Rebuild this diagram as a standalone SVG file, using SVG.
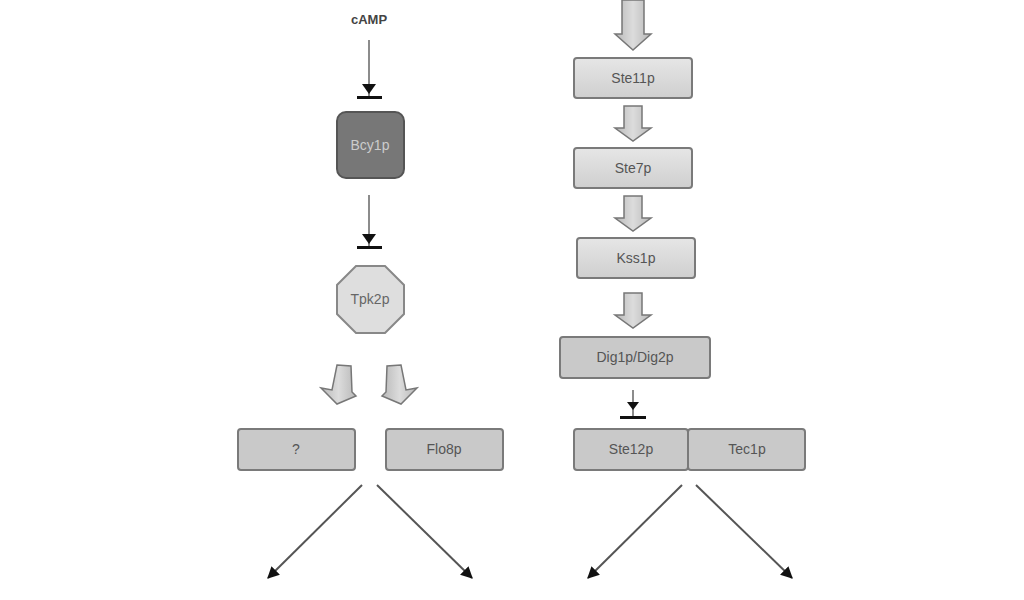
<svg xmlns="http://www.w3.org/2000/svg" width="1024" height="600" viewBox="0 0 1024 600">
<defs>
<linearGradient id="g" x1="0" y1="0" x2="0" y2="1"><stop offset="0" stop-color="#e6e6e6"/><stop offset="1" stop-color="#cfcfcf"/></linearGradient>
<linearGradient id="ba" x1="0" y1="0" x2="1" y2="0"><stop offset="0" stop-color="#b8b8b8"/><stop offset="0.5" stop-color="#dcdcdc"/><stop offset="1" stop-color="#b8b8b8"/></linearGradient>
<marker id="ah" viewBox="0 0 10 10" refX="9" refY="5" markerWidth="6" markerHeight="6" orient="auto"><path d="M0,0 L10,5 L0,10 Z" fill="#111"/></marker>
</defs>
<style>
.box{fill:url(#g);stroke:#7a7a7a;stroke-width:2}
.boxd{fill:#c9c9c9;stroke:#7a7a7a;stroke-width:2}
.t{font-family:"Liberation Sans",Arial,sans-serif;font-size:14px;fill:#555;text-anchor:middle}
.ln{stroke:#666;stroke-width:1.5;fill:none}
.dl{stroke:#555;stroke-width:2;fill:none;marker-end:url(#ah)}
.blk{fill:url(#ba);stroke:#777;stroke-width:1.5}
.inh{fill:#111}
</style>
<rect width="1024" height="600" fill="#fff"/>
<g id="connectors">
<line class="ln" x1="369" y1="40" x2="369" y2="96"/>
<path class="inh" d="M362,84 L376,84 L369,94 Z"/>
<rect class="inh" x="357" y="96" width="25" height="3"/>
<line class="ln" x1="369" y1="195" x2="369" y2="246"/>
<path class="inh" d="M362,234 L376,234 L369,244 Z"/>
<rect class="inh" x="357" y="246" width="25" height="3"/>
<path class="blk" d="M337,365 L351,366 L352,392 L356,396 L337,404 L321,388 L332,390 Z"/>
<path class="blk" d="M401,365 L387,366 L386,392 L382,396 L401,404 L417,388 L406,390 Z"/>
<path class="blk" d="M622,0 L644,0 L644,34 L651,34 L633,50 L615,34 L622,34 Z"/>
<path class="blk" d="M624,106 L642,106 L642,128 L651,128 L633,141 L615,128 L624,128 Z"/>
<path class="blk" d="M624,196 L642,196 L642,218 L651,218 L633,231 L615,218 L624,218 Z"/>
<path class="blk" d="M624,293 L642,293 L642,315 L651,315 L633,328 L615,315 L624,315 Z"/>
<line class="ln" x1="633" y1="390" x2="633" y2="416"/>
<path class="inh" d="M627,402 L639,402 L633,410 Z"/>
<rect class="inh" x="620" y="416" width="26" height="3"/>
<line class="dl" x1="362" y1="485" x2="268" y2="578"/>
<line class="dl" x1="377" y1="485" x2="472" y2="578"/>
<line class="dl" x1="682" y1="485" x2="588" y2="578"/>
<line class="dl" x1="696" y1="485" x2="792" y2="578"/>
</g>
<g id="cAMP"><text x="369" y="24" font-family="Liberation Sans,Arial,sans-serif" font-size="13" font-weight="bold" fill="#444" text-anchor="middle">cAMP</text></g>
<g id="Bcy1p"><rect x="337" y="112" width="67" height="66" rx="9" fill="#777" stroke="#555" stroke-width="2"/><text class="t" x="370" y="150" style="fill:#ccc">Bcy1p</text></g>
<g id="Tpk2p"><polygon points="356,266 385,266 404,285 404,314 385,333 356,333 337,314 337,285" fill="#dedede" stroke="#888" stroke-width="2"/><text class="t" x="370" y="304" style="fill:#666">Tpk2p</text></g>
<g id="unknown"><rect class="boxd" x="238" y="429" width="117" height="41" rx="3"/><text class="t" x="296" y="454">?</text></g>
<g id="Flo8p"><rect class="boxd" x="386" y="429" width="117" height="41" rx="3"/><text class="t" x="444" y="454">Flo8p</text></g>
<g id="Ste11p"><rect class="box" x="574" y="58" width="118" height="40" rx="3"/><text class="t" x="633" y="83">Ste11p</text></g>
<g id="Ste7p"><rect class="box" x="574" y="148" width="118" height="40" rx="3"/><text class="t" x="633" y="173">Ste7p</text></g>
<g id="Kss1p"><rect class="box" x="577" y="238" width="118" height="40" rx="3"/><text class="t" x="636" y="263">Kss1p</text></g>
<g id="Dig1p_Dig2p"><rect class="boxd" x="560" y="337" width="150" height="41" rx="3"/><text class="t" x="635" y="362">Dig1p/Dig2p</text></g>
<g id="Ste12p"><rect class="boxd" x="574" y="429" width="114" height="41" rx="3"/><text class="t" x="631" y="454">Ste12p</text></g>
<g id="Tec1p"><rect class="boxd" x="688" y="429" width="117" height="41" rx="3"/><text class="t" x="747" y="454">Tec1p</text></g>
</svg>
